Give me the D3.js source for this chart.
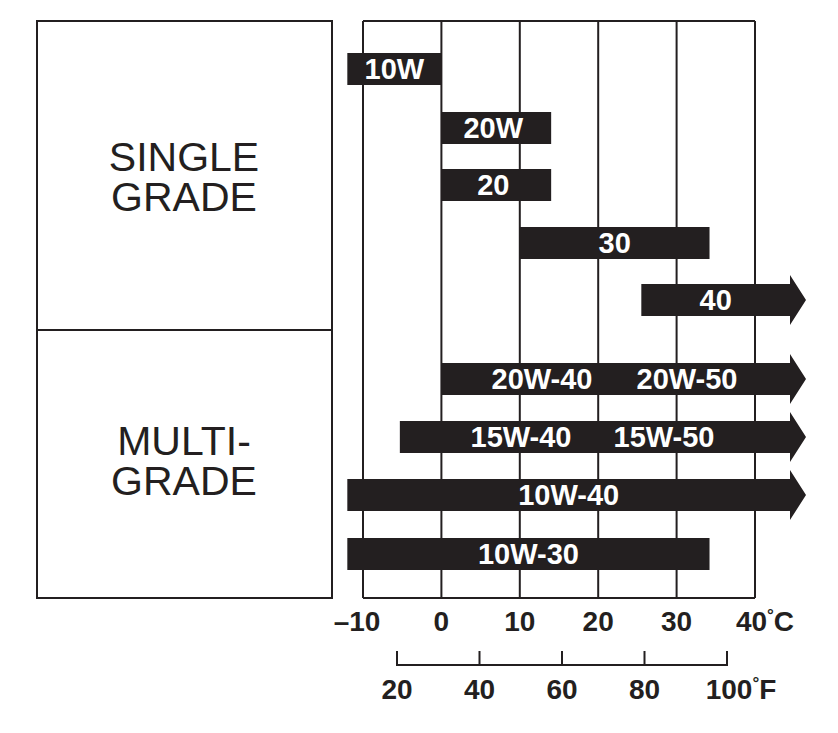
<!DOCTYPE html>
<html><head><meta charset="utf-8">
<script src="https://cdn.jsdelivr.net/npm/d3@7"></script>
<style>body{margin:0;background:#fff}</style>
</head><body>
<svg id="chart" width="838" height="733"></svg>
<script>
var grades = ["10W", "20W", "20", "30", "40", "20W-40", "15W-40", "10W-40", "10W-30"];
var labels2 = ["", "", "", "", "", "20W-50", "15W-50", "", ""];
var lowC = [-12, 0, 0, 10, 25.5, 0, -5.3, -12, -12];
var highC = [0, 14, 14, 34.2, 46, 46, 46, 46, 34.2];
var arrow = [false, false, false, false, true, true, true, true, false];
var rowY = [69, 128, 185, 243, 300, 379, 437, 495, 554];
var rowH = [32, 32, 32, 32, 32, 32, 32, 32, 32];
var cTicks = [-10, 0, 10, 20, 30, 40];
var fTicks = [20, 40, 60, 80, 100];

var svg = d3.select("#chart"),
    ink = "#231f20",
    font = "Liberation Sans, Arial, sans-serif";

var x = d3.scaleLinear().domain([-10, 40]).range([363, 755]);
var xf = d3.scaleLinear().domain([20, 100]).range([397, 727]);

// left boxes
svg.append("rect").attr("x", 37).attr("y", 21).attr("width", 295).attr("height", 577)
    .attr("fill", "none").attr("stroke", ink).attr("stroke-width", 2);
svg.append("line").attr("x1", 37).attr("x2", 332).attr("y1", 330).attr("y2", 330)
    .attr("stroke", ink).attr("stroke-width", 2);

var boxText = [["SINGLE", "GRADE", 158], ["MULTI-", "GRADE", 442]];
boxText.forEach(function(b) {
    var t = svg.append("text").attr("x", 184).attr("y", b[2]).attr("text-anchor", "middle")
        .attr("font-family", font).attr("font-size", 41).attr("fill", ink);
    t.append("tspan").attr("x", 184).attr("dy", 13).text(b[0]);
    t.append("tspan").attr("x", 184).attr("dy", 40).text(b[1]);
});

// grid
svg.append("line").attr("x1", x(-10)).attr("x2", x(40)).attr("y1", 21).attr("y2", 21)
    .attr("stroke", ink).attr("stroke-width", 2);
svg.append("line").attr("x1", x(-10)).attr("x2", x(40)).attr("y1", 598).attr("y2", 598)
    .attr("stroke", ink).attr("stroke-width", 2);
svg.selectAll(".grid").data(cTicks).enter().append("line")
    .attr("x1", x).attr("x2", x).attr("y1", 21).attr("y2", 598)
    .attr("stroke", ink).attr("stroke-width", 2);

// bars
var bars = svg.selectAll(".bar").data(grades).enter().append("g").attr("class", "bar");
bars.append("path")
    .attr("fill", ink)
    .attr("d", function(d, i) {
        var x0 = x(lowC[i]), y0 = rowY[i] - rowH[i] / 2, y1 = rowY[i] + rowH[i] / 2;
        if (!arrow[i]) return "M" + x0 + "," + y0 + "H" + x(highC[i]) + "V" + y1 + "H" + x0 + "Z";
        var xe = 790, tip = 806;
        return "M" + x0 + "," + y0 + "H" + xe + "V" + (y0 - 9) + "L" + tip + "," + rowY[i] +
            "L" + xe + "," + (y1 + 9) + "V" + y1 + "H" + x0 + "Z";
    });
bars.append("text")
    .attr("x", function(d, i) {
        if (labels2[i]) return i == 5 ? 542 : 521;
        var hi = arrow[i] ? 790 : x(highC[i]);
        return (x(lowC[i]) + hi) / 2 + (i == 1 || i == 2 ? -3 : 0);
    })
    .attr("y", function(d, i) { return rowY[i] + 10; })
    .attr("text-anchor", "middle").attr("fill", "#fff")
    .attr("font-family", font).attr("font-weight", "bold").attr("font-size", 29)
    .text(function(d) { return d; });
bars.filter(function(d, i) { return labels2[i]; }).append("text")
    .each(function(d) {
        var i = grades.indexOf(d);
        d3.select(this).attr("x", i == 5 ? 687 : 664).attr("y", rowY[i] + 10).text(labels2[i]);
    })
    .attr("text-anchor", "middle").attr("fill", "#fff")
    .attr("font-family", font).attr("font-weight", "bold").attr("font-size", 29);

// celsius labels
svg.selectAll(".cl").data(cTicks).enter().append("text")
    .attr("x", function(d) { return x(d) + (d == 40 ? 10 : d < 0 ? -6 : 0); }).attr("y", 631)
    .attr("text-anchor", "middle").attr("fill", ink)
    .attr("font-family", font).attr("font-weight", "bold").attr("font-size", 28)
    .each(function(d) {
        var t = d3.select(this);
        if (d < 0) t.text("\u2013" + Math.abs(d));
        else if (d == 40) { t.text("40"); t.append("tspan").attr("font-size", 17).attr("dy", -10).text("°"); t.append("tspan").attr("dy", 10).text("C"); }
        else t.text(d);
    });

// fahrenheit axis
svg.append("line").attr("x1", xf(20)).attr("x2", xf(100)).attr("y1", 665).attr("y2", 665)
    .attr("stroke", ink).attr("stroke-width", 2);
svg.selectAll(".ft").data(fTicks).enter().append("line")
    .attr("x1", xf).attr("x2", xf).attr("y1", 651).attr("y2", 666)
    .attr("stroke", ink).attr("stroke-width", 2);
svg.selectAll(".fl").data(fTicks).enter().append("text")
    .attr("x", function(d) { return xf(d) + (d == 100 ? 14 : 0); }).attr("y", 699)
    .attr("text-anchor", "middle").attr("fill", ink)
    .attr("font-family", font).attr("font-weight", "bold").attr("font-size", 28)
    .each(function(d) {
        var t = d3.select(this);
        if (d == 100) { t.text("100"); t.append("tspan").attr("font-size", 17).attr("dy", -10).text("°"); t.append("tspan").attr("dy", 10).text("F"); }
        else t.text(d);
    });
</script>
</body></html>
